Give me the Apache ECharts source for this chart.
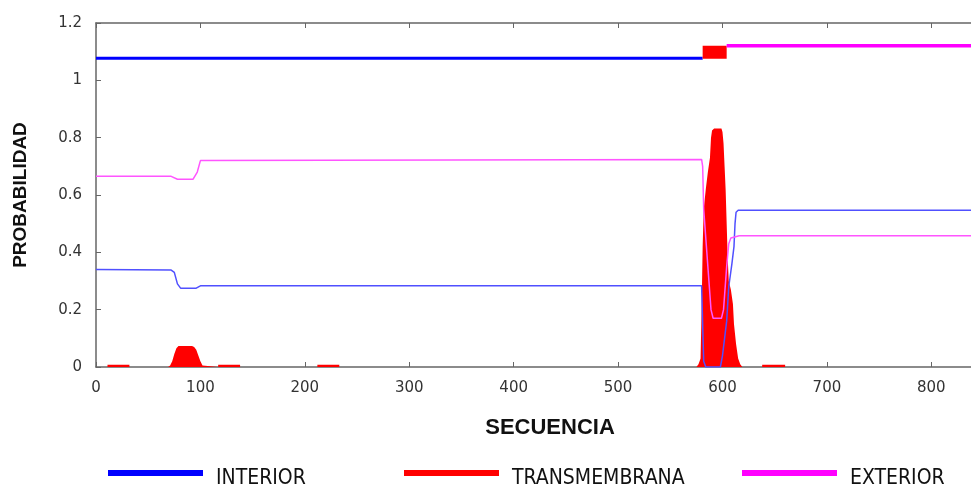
<!DOCTYPE html>
<html>
<head>
<meta charset="utf-8">
<script src="https://cdn.jsdelivr.net/npm/echarts@6/dist/echarts.min.js"></script>
<style>
  html, body { margin: 0; padding: 0; background: #fff; }
  #chart { width: 971px; height: 487px; }
</style>
</head>
<body>
<div id="chart"></div>
<script>
// topologia predicha (linea superior)
var topInterior = [[0, 1.077], [581, 1.077]];
var topTransmem = [[581, 1.098], [604, 1.098]];
var topExterior = [[604, 1.121], [838, 1.121]];

// probabilidad transmembrana (area roja)
var probTransmem = [
  [0, 0], [11, 0], [11, 0.008], [32, 0.008], [32, 0],
  [69, 0], [71, 0.005], [73, 0.02], [75, 0.045], [77, 0.065], [79, 0.073],
  [92, 0.073], [94, 0.07], [96, 0.06], [98, 0.04], [100, 0.02], [102, 0.005], [103, 0],
  [117, 0], [117, 0.008], [138, 0.008], [138, 0],
  [212, 0], [212, 0.008], [233, 0.008], [233, 0],
  [575, 0], [577, 0.01], [579, 0.03], [580, 0.2], [581, 0.42], [582, 0.55],
  [584, 0.62], [586, 0.68], [588, 0.73], [589, 0.8], [590, 0.825], [592, 0.832],
  [599, 0.832], [600, 0.82], [601, 0.78], [602, 0.7], [603, 0.62], [604, 0.5],
  [605, 0.38], [606, 0.3], [608, 0.27], [610, 0.22], [611, 0.15], [613, 0.08],
  [615, 0.03], [617, 0.01], [619, 0],
  [638, 0], [638, 0.008], [660, 0.008], [660, 0], [838, 0]
];

// probabilidad interior (linea azul fina)
var probInterior = [
  [0, 0.34], [72, 0.338], [75, 0.33], [78, 0.29], [81, 0.275], [96, 0.275],
  [100, 0.283], [580, 0.283], [581, 0.15], [582, 0.02], [584, 0], [598, 0],
  [600, 0.04], [602, 0.1], [604, 0.16], [606, 0.28], [609, 0.36], [611, 0.42],
  [612, 0.5], [613, 0.54], [615, 0.547], [838, 0.547]
];

// probabilidad exterior (linea magenta fina)
var probExterior = [
  [0, 0.665], [72, 0.665], [78, 0.655], [93, 0.655], [97, 0.68], [100, 0.72],
  [101, 0.724], [580, 0.724], [581, 0.7], [582, 0.55], [583, 0.5], [587, 0.3],
  [589, 0.2], [591, 0.17], [599, 0.17], [601, 0.2], [604, 0.35], [606, 0.43],
  [608, 0.45], [616, 0.458], [838, 0.458]
];

var axisColor = '#666';
var labelFont = { fontFamily: 'DejaVu Sans', fontSize: 15, color: '#333' };

function legendItem(name, color, left) {
  return {
    data: [{ name: name, itemStyle: { color: color } }],
    left: left, top: 468, padding: 0,
    icon: 'rect', itemWidth: 95, itemHeight: 6,
    selectedMode: false,
    formatter: '{t|{name}}',
    textStyle: {
      rich: {
        t: { fontFamily: "'Liberation Sans Narrow', 'DejaVu Sans Condensed', sans-serif", fontSize: 21, color: '#111', padding: [11, 0, 0, 8] }
      }
    }
  };
}

var myChart = echarts.init(document.getElementById('chart'));
var options = {
  animation: false,
  backgroundColor: '#fff',
  grid: { left: 96, top: 23, right: 0, bottom: 120, outerBoundsMode: 'none', containLabel: false },
  legend: [
    legendItem('INTERIOR', '#0000ff', 108),
    legendItem('TRANSMEMBRANA', '#ff0000', 404),
    legendItem('EXTERIOR', '#ff00ff', 742)
  ],
  xAxis: [{
    type: 'value', min: 0, max: 838, interval: 100,
    name: 'SECUENCIA', nameLocation: 'middle', nameGap: 50,
    nameTextStyle: { fontFamily: 'Liberation Sans', fontWeight: 'bold', fontSize: 22, color: '#111', padding: [0, 0, 0, 33] },
    axisLine: { lineStyle: { color: axisColor, width: 1.5 } },
    axisTick: { inside: true, length: 5, lineStyle: { color: axisColor } },
    axisLabel: Object.assign({ margin: 14, formatter: function (v) { return v % 100 === 0 ? v : ''; } }, labelFont),
    splitLine: { show: false }
  }, {
    type: 'value', min: 0, max: 838, interval: 100, position: 'top',
    axisLine: { lineStyle: { color: axisColor, width: 1.5 } },
    axisTick: { inside: true, length: 5, lineStyle: { color: axisColor } },
    axisLabel: { show: false },
    splitLine: { show: false }
  }],
  yAxis: {
    type: 'value', min: 0, max: 1.2, interval: 0.2,
    name: 'PROBABILIDAD', nameLocation: 'middle', nameGap: 66,
    nameTextStyle: { fontFamily: 'Liberation Sans', fontWeight: 'bold', fontSize: 19, color: '#111' },
    axisLine: { show: true, lineStyle: { color: axisColor, width: 1.5 } },
    axisTick: { show: true, inside: true, length: 5, lineStyle: { color: axisColor } },
    axisLabel: Object.assign({ margin: 14 }, labelFont),
    splitLine: { show: false }
  },
  series: [
    { name: 'INTERIOR', type: 'line', data: topInterior, showSymbol: false, lineStyle: { color: '#0000ff', width: 3 }, itemStyle: { color: '#0000ff' } },
    { name: 'TRANSMEMBRANA', type: 'line', data: topTransmem, showSymbol: false, lineStyle: { color: '#ff0000', width: 13, cap: 'butt' }, itemStyle: { color: '#ff0000' } },
    { name: 'EXTERIOR', type: 'line', data: topExterior, showSymbol: false, lineStyle: { color: '#ff00ff', width: 3.5 }, itemStyle: { color: '#ff00ff' } },
    { name: 'TRANSMEMBRANA', type: 'line', data: probTransmem, showSymbol: false, lineStyle: { width: 0 }, areaStyle: { color: '#ff0000', opacity: 1 }, itemStyle: { color: '#ff0000' } },
    { name: 'INTERIOR', type: 'line', data: probInterior, showSymbol: false, lineStyle: { color: '#5050ff', width: 1.5 }, itemStyle: { color: '#5050ff' } },
    { name: 'EXTERIOR', type: 'line', data: probExterior, showSymbol: false, lineStyle: { color: '#ff55ff', width: 1.5 }, itemStyle: { color: '#ff55ff' } }
  ]
};
myChart.setOption(options);
</script>
</body>
</html>
